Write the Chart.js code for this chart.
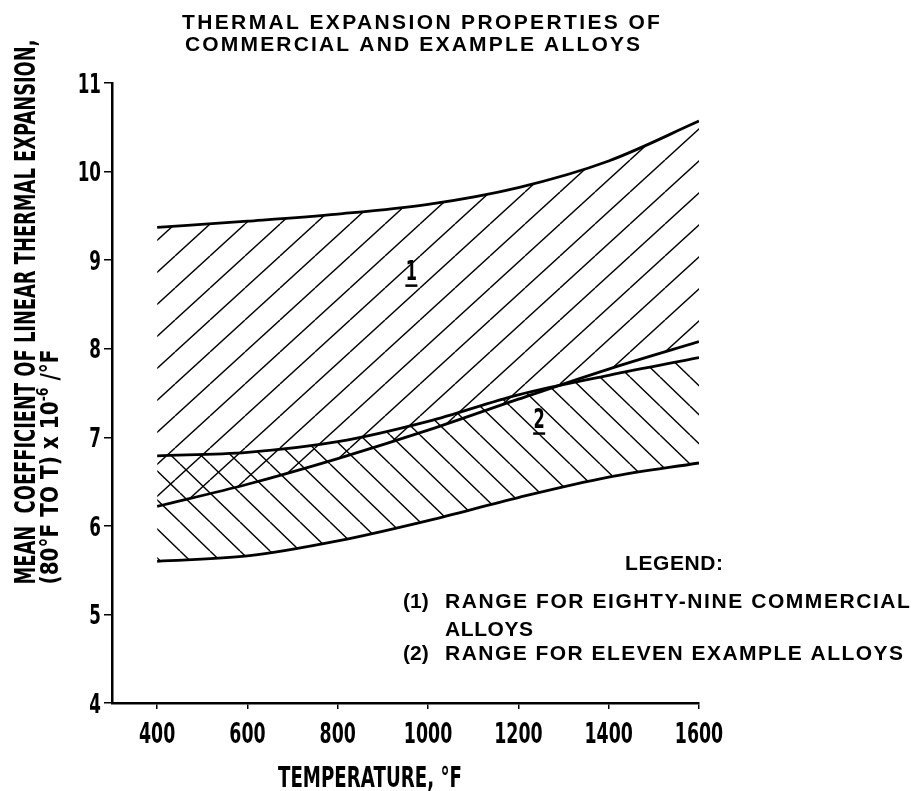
<!DOCTYPE html>
<html>
<head>
<meta charset="utf-8">
<title>Thermal expansion properties of commercial and example alloys</title>
<script src="https://cdn.jsdelivr.net/npm/chart.js@4.4.1/dist/chart.umd.min.js"></script>
<style>
  html, body { margin: 0; padding: 0; background: #fff; }
  canvas { display: block; }
</style>
</head>
<body>
<canvas id="chart" width="916" height="791"></canvas>
<script>
// Temperature (°F) and mean coefficient of linear thermal expansion (80°F to T), x 10^-6 /°F
const temperatures = [400, 600, 800, 1000, 1200, 1400, 1600];

// Band (1): range for eighty-nine commercial alloys
const commercialUpper = [9.37, 9.44, 9.52, 9.63, 9.82, 10.12, 10.57];
const commercialLower = [6.22, 6.47, 6.76, 7.08, 7.43, 7.77, 8.08];

// Band (2): range for eleven example alloys
const exampleUpper = [6.79, 6.83, 6.95, 7.18, 7.48, 7.70, 7.90];
const exampleLower = [5.60, 5.66, 5.83, 6.06, 6.32, 6.55, 6.71];

// Axis ticks
const xTickValues = [400, 600, 800, 1000, 1200, 1400, 1600];
const yTickValues = [4, 5, 6, 7, 8, 9, 10, 11];

// Band number markers, in data coordinates
const bandMarkers = [
  { text: '1', t: 963, v: 8.78 },
  { text: '2', t: 1246, v: 7.11 }
];

const CONDENSED = '"DejaVu Sans", "Liberation Sans", sans-serif';
const BOLD = '"Liberation Sans", Arial, Helvetica, sans-serif';

// Hatch patterns: "/" for band 1, "\" for band 2
function hatch(w, h, forward, lw) {
  const c = document.createElement('canvas');
  c.width = w; c.height = h;
  const g = c.getContext('2d');
  g.strokeStyle = '#000';
  g.lineWidth = lw;
  g.lineCap = 'butt';
  for (let k = -1; k <= 1; k++) {
    const ox = k * w;
    g.beginPath();
    if (forward) { g.moveTo(ox, h); g.lineTo(ox + w, 0); }
    else { g.moveTo(ox, 0); g.lineTo(ox + w, h); }
    g.stroke();
  }
  return g.createPattern(c, 'repeat');
}

const ctx = document.getElementById('chart').getContext('2d');
const slashHatch = hatch(35, 32, true, 1.4);
const backHatch = hatch(30, 29, false, 1.4);

function series(values, extra) {
  return Object.assign({
    data: temperatures.map((t, i) => ({ x: t, y: values[i] })),
    borderColor: '#000',
    borderWidth: 2.8,
    pointRadius: 0,
    cubicInterpolationMode: 'monotone',
    fill: false
  }, extra);
}

// Condensed text: segments (sup = raised) squeezed horizontally by a factor,
// or to a given overall length; optionally rotated to read bottom-to-top
function drawCondensed(g, segments, cx, cy, opts) {
  const { size, weight = 'bold', family = CONDENSED, rotate = false, length = null,
          squeeze = 0.6, align = 'center' } = opts;
  g.save();
  const widths = segments.map(s => {
    g.font = `${weight} ${s.sup ? size * 0.62 : size}px ${family}`;
    return g.measureText(s.t).width;
  });
  const natural = widths.reduce((a, b) => a + b, 0);
  const k = length ? length / natural : squeeze;
  g.translate(cx, cy);
  if (rotate) g.rotate(-Math.PI / 2);
  g.scale(k, 1);
  g.fillStyle = '#000';
  g.textBaseline = 'alphabetic';
  g.textAlign = 'left';
  let x = align === 'center' ? -natural / 2 : (align === 'right' ? -natural : 0);
  const base = size * 0.36;
  segments.forEach((s, i) => {
    g.font = `${weight} ${s.sup ? size * 0.62 : size}px ${family}`;
    g.fillText(s.t, x, s.sup ? base - size * 0.42 : base);
    x += widths[i];
  });
  g.restore();
}

// Spaced bold text: letters spread so the line spans the given width
function drawSpaced(g, text, left, cy, width, size) {
  g.save();
  g.font = `bold ${size}px ${BOLD}`;
  g.letterSpacing = '0px';
  const natural = g.measureText(text).width;
  const n = text.length;
  g.letterSpacing = ((width - natural) / (n - 1)).toFixed(2) + 'px';
  g.fillStyle = '#000';
  g.textBaseline = 'alphabetic';
  g.textAlign = 'left';
  g.fillText(text, left, cy + size * 0.36);
  g.restore();
}

const annotations = {
  id: 'annotations',
  afterDraw(chart) {
    const g = chart.ctx;
    const xs = chart.scales.x, ys = chart.scales.y;

    // Tick labels, condensed
    xTickValues.forEach(v => {
      drawCondensed(g, [{ t: String(v) }], xs.getPixelForValue(v), 733, { size: 29, squeeze: 0.6 });
    });
    yTickValues.forEach(v => {
      drawCondensed(g, [{ t: String(v) }], 101, ys.getPixelForValue(v), { size: 27, squeeze: 0.62, align: 'right' });
    });

    // Title
    drawSpaced(g, 'THERMAL EXPANSION PROPERTIES OF', 182, 21, 478, 21);
    drawSpaced(g, 'COMMERCIAL AND EXAMPLE ALLOYS', 185, 43, 455, 21);

    // Y axis title (two lines)
    drawCondensed(g, [{ t: 'MEAN  COEFFICIENT OF LINEAR THERMAL EXPANSION,' }],
      25, 312, { size: 28, length: 545, rotate: true });
    drawCondensed(g, [{ t: '(80°F TO T) x 10' }, { t: '-6', sup: true }, { t: ' /°F' }],
      49, 467, { size: 25, length: 235, rotate: true });

    // X axis title
    drawCondensed(g, [{ t: 'TEMPERATURE, °F' }], 370, 777, { size: 29, length: 184 });

    // Legend
    drawSpaced(g, 'LEGEND:', 625, 562, 98, 21);
    g.save();
    g.font = `bold 21px ${BOLD}`;
    g.fillStyle = '#000';
    g.textBaseline = 'alphabetic';
    g.fillText('(1)', 403, 600 + 7.5);
    g.fillText('(2)', 403, 652 + 7.5);
    g.restore();
    drawSpaced(g, 'RANGE FOR EIGHTY-NINE COMMERCIAL', 445, 600, 465, 21);
    drawSpaced(g, 'ALLOYS', 445, 628, 88, 21);
    drawSpaced(g, 'RANGE FOR ELEVEN EXAMPLE ALLOYS', 445, 652, 458, 21);

    // Band numbers, underlined
    g.save();
    g.strokeStyle = '#000';
    bandMarkers.forEach(m => {
      const px = xs.getPixelForValue(m.t);
      const py = ys.getPixelForValue(m.v);
      drawCondensed(g, [{ t: m.text }], px, py - 9, { size: 27, squeeze: 0.6 });
      g.lineWidth = 2.5;
      g.beginPath();
      g.moveTo(px - 6, py + 6);
      g.lineTo(px + 6, py + 6);
      g.stroke();
    });
    g.restore();
  }
};

new Chart(ctx, {
  type: 'line',
  data: {
    datasets: [
      series(commercialUpper, { label: 'Commercial upper' }),
      series(commercialLower, { label: 'Commercial lower', fill: '-1', backgroundColor: slashHatch }),
      series(exampleUpper, { label: 'Example upper' }),
      series(exampleLower, { label: 'Example lower', fill: '-1', backgroundColor: backHatch })
    ]
  },
  options: {
    responsive: false,
    animation: false,
    events: [],
    layout: { padding: { top: 83, right: 217, left: 0, bottom: 0 } },
    plugins: {
      legend: { display: false },
      tooltip: { enabled: false },
      title: { display: false },
      filler: { drawTime: 'beforeDatasetsDraw' }
    },
    scales: {
      x: {
        type: 'linear',
        min: 300,
        max: 1600,
        afterBuildTicks: s => { s.ticks = xTickValues.map(v => ({ value: v })); },
        afterFit: s => { s.height = 88; },
        ticks: { display: false },
        grid: { drawOnChartArea: false, drawTicks: true, tickLength: 6, color: '#000', lineWidth: 1.5 },
        border: { display: true, color: '#000', width: 2.5 }
      },
      y: {
        type: 'linear',
        min: 4,
        max: 11,
        afterBuildTicks: s => { s.ticks = yTickValues.map(v => ({ value: v })); },
        afterFit: s => { s.width = 112; },
        ticks: { display: false },
        grid: { drawOnChartArea: false, drawTicks: true, tickLength: 8, color: '#000', lineWidth: 1.5 },
        border: { display: true, color: '#000', width: 2.5 }
      }
    }
  },
  plugins: [annotations]
});
</script>
</body>
</html>
